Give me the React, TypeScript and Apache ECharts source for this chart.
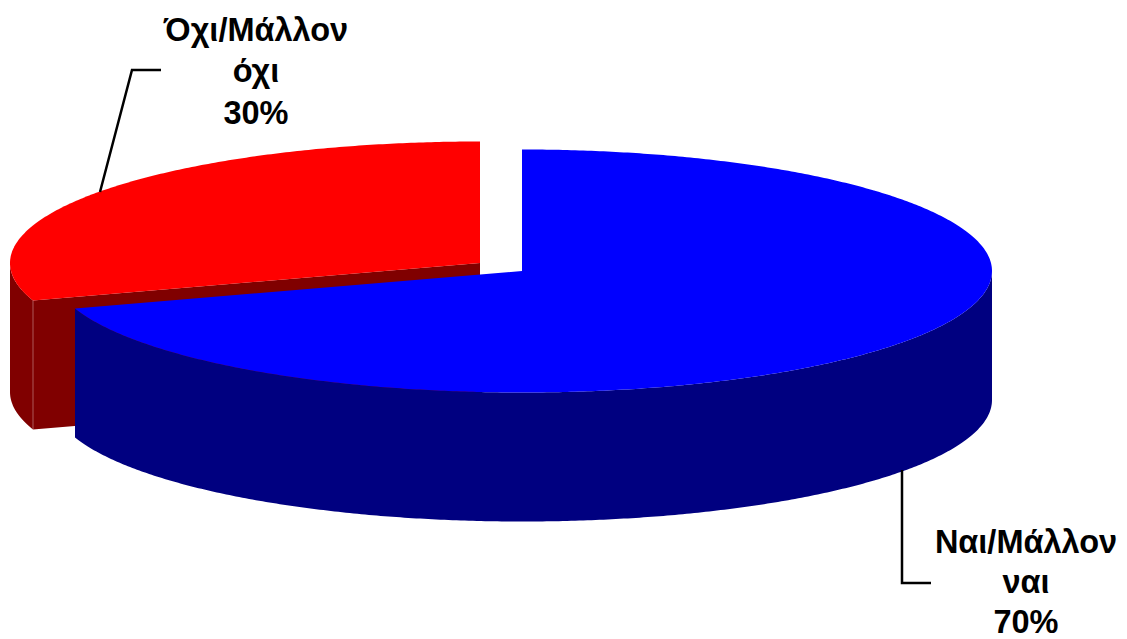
import React, { useEffect, useRef } from "react";
import * as echarts from "echarts";

const categories = ["Όχι/Μάλλον όχι", "Ναι/Μάλλον ναι"];
const labelLines = [["Όχι/Μάλλον", "όχι"], ["Ναι/Μάλλον", "ναι"]];
const values = [30, 70];
const topColors = ["#FF0000", "#0000FF"];
const sideColors = ["#800000", "#000080"];

// order of the slices clockwise from 12 o'clock: Ναι first, then Όχι
const startFraction = [values[1] / 100, 0];

const RX = 470;
const RY = 121.5;
const DEPTH = 129;
const centers = [[480, 263], [522, 271]];
const labelX = [256, 1026];
const labelFirstY = [29.5, 541.5];
const lineStep = [41.5, 40.25];
const FONT_SIZE = 32.5;
const leaders = [
  [[100, 192], [132, 70], [161, 70]],
  [[902, 470], [902, 583], [931, 583]],
];

function pt(c: number[], deg: number, dy = 0): number[] {
  const r = (deg * Math.PI) / 180;
  return [c[0] + RX * Math.sin(r), c[1] - RY * Math.cos(r) + dy];
}

function arc(c: number[], a: number, b: number, dy = 0): number[][] {
  const out: number[][] = [];
  const n = Math.max(2, Math.ceil(Math.abs(b - a) * 2));
  for (let i = 0; i <= n; i++) out.push(pt(c, a + ((b - a) * i) / n, dy));
  return out;
}

function renderSlice(params: any, api: any) {
  const i = params.dataIndex;
  const v = api.value(0);
  const c = centers[i];
  const a0 = startFraction[i] * 360;
  const a1 = a0 + (v / 100) * 360;
  const children: any[] = [];
  // visible front part of the outer wall: 90° to 270°
  const wa = Math.max(a0, 90);
  const wb = Math.min(a1, 270);
  if (wb > wa) {
    children.push({
      type: "polygon",
      shape: { points: [...arc(c, wa, wb), ...arc(c, wb, wa, DEPTH)] },
      style: { fill: sideColors[i] },
      silent: true,
    });
  }
  // cut face that looks to the viewer (start edge of the Όχι slice)
  if (a0 > 180 && a0 < 360) {
    const p = pt(c, a0);
    children.push({
      type: "polygon",
      shape: { points: [c, p, [p[0], p[1] + DEPTH], [c[0], c[1] + DEPTH]] },
      style: { fill: sideColors[i] },
      silent: true,
    });
    children.push({
      type: "line",
      shape: { x1: p[0], y1: p[1], x2: p[0], y2: p[1] + DEPTH },
      style: { stroke: "rgba(255,255,255,0.35)", lineWidth: 1 },
      silent: true,
    });
  }
  // top surface
  children.push({
    type: "polygon",
    shape: { points: [c, ...arc(c, a0, a1)] },
    style: { fill: topColors[i] },
    silent: true,
  });
  // leader
  children.push({
    type: "polyline",
    shape: { points: leaders[i] },
    style: { stroke: "#000", lineWidth: 2.5, fill: "none" },
    silent: true,
  });
  // label, one text per line
  [...labelLines[i], `${v}%`].forEach((line, k) => {
    children.push({
      type: "text",
      x: labelX[i],
      y: labelFirstY[i] + k * lineStep[i],
      style: {
        text: line,
        fontFamily: "Liberation Sans",
        fontWeight: "bold",
        fontSize: FONT_SIZE,
        fill: "#000",
        align: "center",
        verticalAlign: "middle",
      },
      silent: true,
    });
  });
  return { type: "group", children };
}

export default function App() {
  const ref = useRef<HTMLDivElement>(null);
  useEffect(() => {
    const chart = echarts.init(ref.current!, undefined, { renderer: "svg" });
    chart.setOption({
      animation: false,
      backgroundColor: "#fff",
      series: [
        {
          type: "custom",
          coordinateSystem: "none",
          renderItem: renderSlice,
          data: values.map((v, i) => ({ name: categories[i], value: [v] })),
          silent: true,
        },
      ],
    });
    return () => chart.dispose();
  }, []);
  return (
    <div
      ref={ref}
      style={{ position: "absolute", left: 0, top: 0, width: 1127, height: 639 }}
    />
  );
}
